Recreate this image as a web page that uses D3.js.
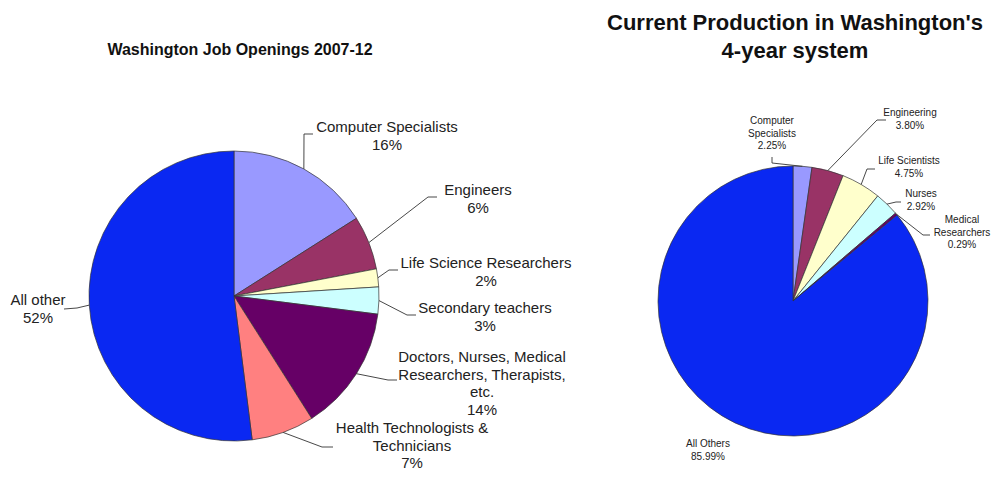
<!DOCTYPE html>
<html>
<head>
<meta charset="utf-8">
<script src="https://cdn.jsdelivr.net/npm/d3@7"></script>
<style>
  body { margin: 0; background: #fff; }
  svg { font-family: "Liberation Sans", Arial, sans-serif; }
</style>
</head>
<body>
<svg id="chart" width="992" height="477"></svg>
<script>
// left pie: Washington job openings 2007-12 (percent)
const jobCategories = ["Computer Specialists", "Engineers", "Life Science Researchers", "Secondary teachers",
    "Doctors, Nurses, Medical\nResearchers, Therapists,\netc.", "Health Technologists &\nTechnicians", "All other"];
const jobValues = [16, 6, 2, 3, 14, 7, 52];
const jobColors = ["#9999ff", "#993366", "#ffffcc", "#ccffff", "#660066", "#ff8080", "#0a28f2"];

// right pie: current production in the 4-year system (percent)
const prodCategories = ["Computer\nSpecialists", "Engineering", "Life Scientists", "Nurses", "Medical\nResearchers", "All Others"];
const prodValues = [2.25, 3.80, 4.75, 2.92, 0.29, 85.99];
const prodColors = ["#9999ff", "#993366", "#ffffcc", "#ccffff", "#660066", "#0a28f2"];

const svg = d3.select("#chart");

// label placement: text centre, first baseline, leader points after the pie edge
const jobLayout = [
    { x: 387, y: 132, pts: [[304, 134], [313, 134]] },
    { x: 478, y: 195, pts: [[428, 197], [437, 197]] },
    { x: 486, y: 268, pts: [[389, 270], [398, 270]] },
    { x: 485, y: 313, pts: [[407, 315], [416, 315]] },
    { x: 482, y: 362, pts: [[388, 380], [397, 380]] },
    { x: 412, y: 433, pts: [[322, 447], [333, 447]] },
    { x: 38, y: 305, pts: [[77, 308], [64, 309]] }
];
const prodLayout = [
    { x: 772, y: 124, pts: [[772, 163], [772, 157]] },
    { x: 910, y: 116, pts: [[877, 120], [886, 120]] },
    { x: 909, y: 164, pts: [[867, 169], [875, 169]] },
    { x: 921, y: 197, pts: [[896, 202], [901, 202]] },
    { x: 962, y: 223, pts: [[923, 235], [930, 235]] },
    { x: 708, y: 447, pts: null }
];

function drawPie(opt) {
    let data = opt.values.map((v, i) => ({ name: opt.names[i], value: v, color: opt.colors[i] }));
    let pie = d3.pie().sort(null).value(d => d.value);
    let arc = d3.arc().innerRadius(0).outerRadius(opt.r);
    let arcs = pie(data);

    let g = svg.append("g").attr("transform", `translate(${opt.cx},${opt.cy})`);
    g.selectAll("path")
        .data(arcs)
        .join("path")
        .attr("d", arc)
        .attr("fill", d => d.data.color)
        .attr("stroke", "#333")
        .attr("stroke-width", 0.7);

    // leader lines start at the edge of each slice, on its mid angle
    arcs.forEach((a, i) => {
        let lay = opt.layout[i];
        if (lay.pts) {
            let mid = (a.startAngle + a.endAngle) / 2;
            let start = [opt.cx + opt.r * Math.sin(mid), opt.cy - opt.r * Math.cos(mid)];
            svg.append("path")
                .attr("d", d3.line()([start].concat(lay.pts)))
                .attr("fill", "none")
                .attr("stroke", "#333")
                .attr("stroke-width", 0.9);
        }
        let lines = a.data.name.split("\n").concat([opt.fmt(a.data.value)]);
        let t = svg.append("text")
            .attr("x", lay.x)
            .attr("y", lay.y)
            .attr("text-anchor", "middle")
            .attr("font-size", opt.fontSize)
            .attr("fill", "#222");
        lines.forEach((s, k) => {
            t.append("tspan")
                .attr("x", lay.x)
                .attr("dy", k === 0 ? 0 : opt.lineH)
                .text(s);
        });
    });
}

drawPie({
    names: jobCategories, values: jobValues, colors: jobColors,
    cx: 234, cy: 296, r: 145, layout: jobLayout,
    fontSize: 15, lineH: 17.5, fmt: v => v + "%"
});

drawPie({
    names: prodCategories, values: prodValues, colors: prodColors,
    cx: 793, cy: 301, r: 135, layout: prodLayout,
    fontSize: 10, lineH: 12.5, fmt: v => v.toFixed(2) + "%"
});

// titles
svg.append("text")
    .text("Washington Job Openings 2007-12")
    .attr("x", 240).attr("y", 55)
    .attr("text-anchor", "middle")
    .attr("font-size", 16).attr("font-weight", "bold")
    .attr("fill", "#111");

svg.append("text")
    .text("Current Production in Washington's")
    .attr("x", 795).attr("y", 30)
    .attr("text-anchor", "middle")
    .attr("font-size", 22).attr("font-weight", "bold")
    .attr("fill", "#111");

svg.append("text")
    .text("4-year system")
    .attr("x", 795).attr("y", 58)
    .attr("text-anchor", "middle")
    .attr("font-size", 22).attr("font-weight", "bold")
    .attr("fill", "#111");
</script>
</body>
</html>
